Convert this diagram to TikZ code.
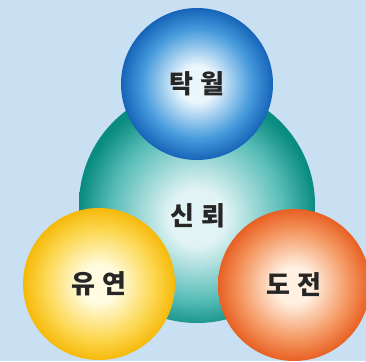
\documentclass[tikz,border=0pt]{standalone}
\usepackage{fontspec}
\newfontfamily\kor{Noto Sans CJK KR}
\usepackage{tikz}
\usetikzlibrary{positioning}

\definecolor{bgblue}{RGB}{200,224,242}
\definecolor{blueout}{RGB}{22,100,185}
\definecolor{bluemid}{RGB}{70,155,220}
\definecolor{bluein}{RGB}{235,246,253}
\definecolor{tealout}{RGB}{10,140,128}
\definecolor{tealmid}{RGB}{90,190,185}
\definecolor{tealin}{RGB}{225,243,244}
\definecolor{yelout}{RGB}{246,185,10}
\definecolor{yelmid}{RGB}{252,215,80}
\definecolor{yelin}{RGB}{255,252,225}
\definecolor{orout}{RGB}{232,96,35}
\definecolor{ormid}{RGB}{244,150,95}
\definecolor{orin}{RGB}{255,240,225}

\newcommand\korword{\kor\bfseries\fontsize{26}{30}\selectfont\spaceskip=0.3em plus 0pt minus 0pt\relax}

\pgfdeclareradialshading{bluesphere}{\pgfpoint{0bp}{0bp}}{color(0bp)=(bluein); color(6bp)=(bluein); color(18bp)=(bluemid); color(25bp)=(blueout); color(50bp)=(blueout)}
\pgfdeclareradialshading{tealsphere}{\pgfpoint{0bp}{-3bp}}{color(0bp)=(tealin); color(6bp)=(tealin); color(18bp)=(tealmid); color(25bp)=(tealout); color(50bp)=(tealout)}
\pgfdeclareradialshading{yelsphere}{\pgfpoint{0bp}{0bp}}{color(0bp)=(yelin); color(6bp)=(yelin); color(18bp)=(yelmid); color(25bp)=(yelout); color(50bp)=(yelout)}
\pgfdeclareradialshading{orsphere}{\pgfpoint{0bp}{0bp}}{color(0bp)=(orin); color(6bp)=(orin); color(18bp)=(ormid); color(25bp)=(orout); color(50bp)=(orout)}

\begin{document}
\begin{tikzpicture}[
  x=1pt, y=-1pt,
  ball/.style={circle, inner sep=0pt, minimum size=152pt, text=black!85, font=\korword},
  word/.style={inner sep=0pt, text=black!85, font=\korword}
]
% Background
\fill[bgblue] (0,0) rectangle (366,361);
\useasboundingbox (0,0) rectangle (366,361);

% Center sphere
\node[ball, minimum size=236pt, shading=tealsphere] (trust) at (197,205) {};
\node[word] (trustlabel) at (198,216) {신 뢰};

% Outer spheres
\node[ball, shading=bluesphere] (excel) at (197,84) {탁 월};
\node[ball, shading=yelsphere] (flex) at (99,284) {유 연};
\node[ball, shading=orsphere] (dare) at (294,285) {도 전};
\end{tikzpicture}
\end{document}
